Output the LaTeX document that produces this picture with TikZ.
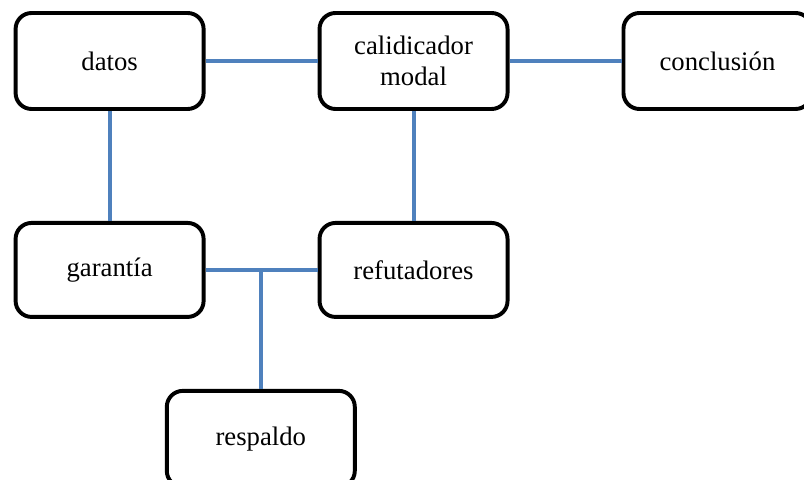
\documentclass[tikz,border=0pt]{standalone}
\usepackage{fontspec}
\setmainfont{Liberation Serif}
\usetikzlibrary{positioning}
\definecolor{linkblue}{HTML}{4F81BD}
\tikzset{box/.style={draw, line width=2.8pt, rounded corners=0.4cm, minimum width=4.7cm, minimum height=2.4cm, align=center, font=\fontsize{19}{22}\selectfont},
    link/.style={draw=linkblue, line width=2.8pt}}

\begin{document}
\begin{tikzpicture}[node distance=2.8cm]
        \useasboundingbox (0,0) rectangle (20.1,11.975);
        \node [box] (datos) at (2.74,10.45) {datos};
        \node [box, right=2.8cm of datos] (calificador) {calidicador\\modal};
        \node [box, right=2.8cm of calificador] (conclusion) {conclusión};
        \node [box, below=2.75cm of datos, minimum height=2.35cm] (garantia) {garantía};
        \node [box, right=2.8cm of garantia, minimum height=2.35cm] (refutadores) {refutadores};
        \node [box, below=1.75cm of garantia, xshift=3.78cm] (respaldo) {respaldo};
        \draw [link] (datos)--(calificador);
        \draw [link] (calificador)--(conclusion);
        \draw [link] (datos)--(garantia);
        \draw [link] (calificador)--(refutadores);
        \draw [link] (garantia)--(refutadores);
        \coordinate (junction) at (garantia.east -| respaldo.north);
        \draw [link] (junction)--(respaldo);
    \end{tikzpicture}
\end{document}
